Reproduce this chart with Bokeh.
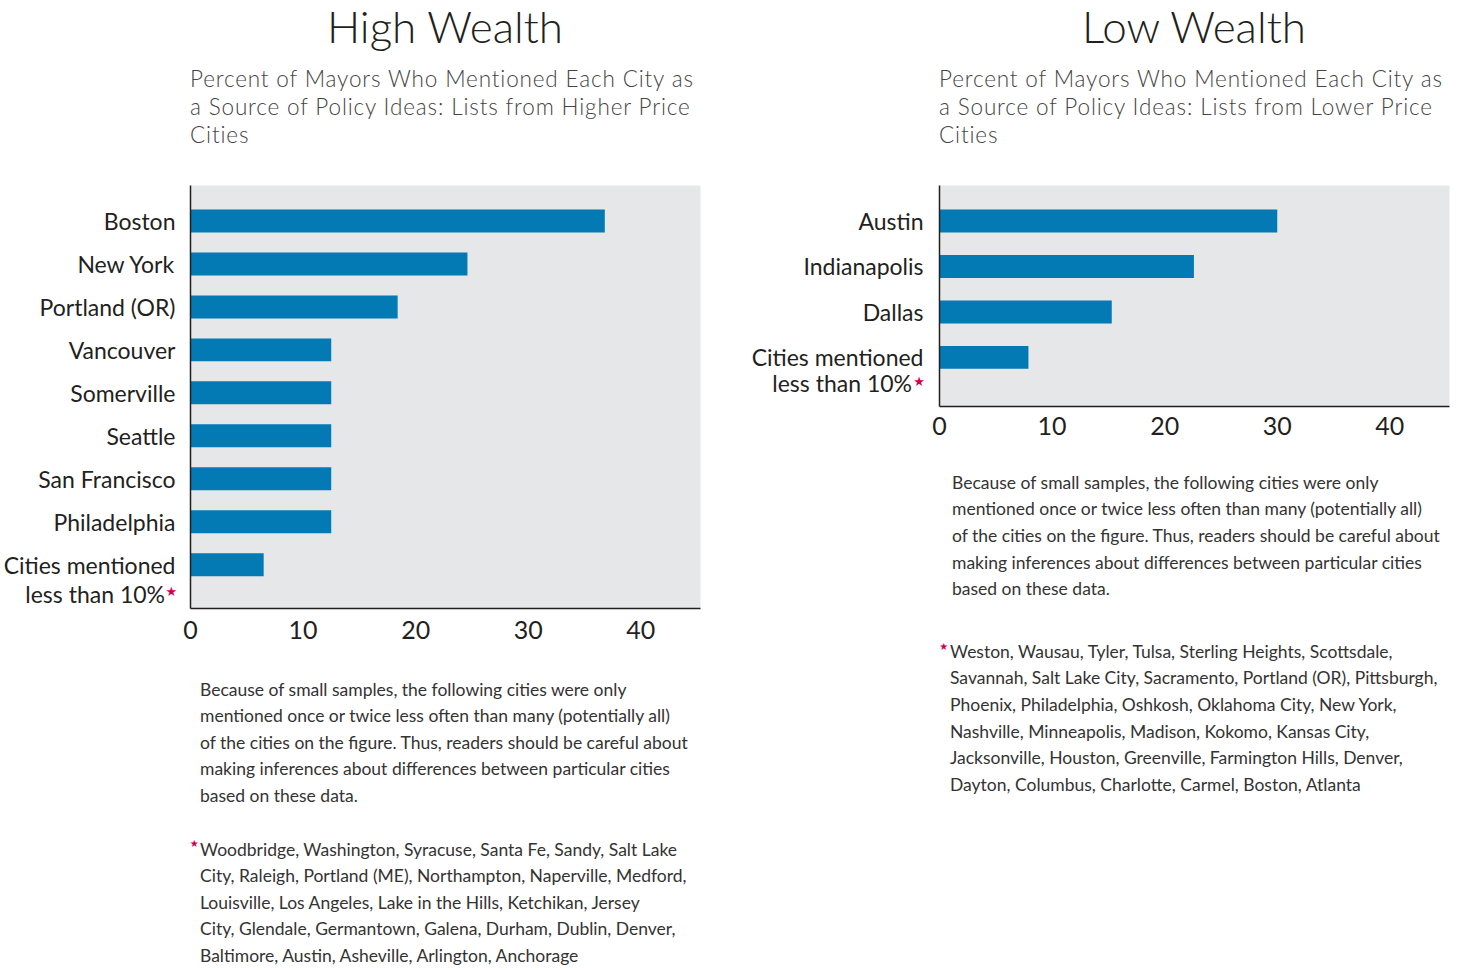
from bokeh.plotting import figure
from bokeh.models import Range1d, FixedTicker, Div
from bokeh.embed import file_html
from bokeh.resources import INLINE

# ---------------- data ----------------
high_cities = ["Boston", "New York", "Portland (OR)", "Vancouver", "Somerville",
               "Seattle", "San Francisco", "Philadelphia", "Cities mentioned"]
high_values = [36.8, 24.6, 18.4, 12.5, 12.5, 12.5, 12.5, 12.5, 6.5]

low_cities = ["Austin", "Indianapolis", "Dallas", "Cities mentioned"]
low_values = [30.0, 22.6, 15.3, 7.9]

x_ticks = [0, 10, 20, 30, 40]
other_label = "less than 10%"
star = "\u2605"

titles = ["High Wealth", "Low Wealth"]
subtitle_high = ["Percent of Mayors Who Mentioned Each City as",
                 "a Source of Policy Ideas: Lists from Higher Price",
                 "Cities"]
subtitle_low = ["Percent of Mayors Who Mentioned Each City as",
                "a Source of Policy Ideas: Lists from Lower Price",
                "Cities"]
caveat = ["Because of small samples, the following cities were only",
          "mentioned once or twice less often than many (potentially all)",
          "of the cities on the figure. Thus, readers should be careful about",
          "making inferences about differences between particular cities",
          "based on these data."]
others_high = ["Woodbridge, Washington, Syracuse, Santa Fe, Sandy, Salt Lake",
               "City, Raleigh, Portland (ME), Northampton, Naperville, Medford,",
               "Louisville, Los Angeles, Lake in the Hills, Ketchikan, Jersey",
               "City, Glendale, Germantown, Galena, Durham, Dublin, Denver,",
               "Baltimore, Austin, Asheville, Arlington, Anchorage"]
others_low = ["Weston, Wausau, Tyler, Tulsa, Sterling Heights, Scottsdale,",
              "Savannah, Salt Lake City, Sacramento, Portland (OR), Pittsburgh,",
              "Phoenix, Philadelphia, Oshkosh, Oklahoma City, New York,",
              "Nashville, Minneapolis, Madison, Kokomo, Kansas City,",
              "Jacksonville, Houston, Greenville, Farmington Hills, Denver,",
              "Dayton, Columbus, Charlotte, Carmel, Boston, Atlanta"]

# ---------------- style ----------------
BAR = "#037ab3"
FRAME_BG = "#e6e7e8"
DARK = "#231f20"
GREY = "#444444"
NOTE = "#333333"
RED = "#d1004f"
FONT = "Lato"
NOTE_SIZE = 17.5


def div(html, left, top, width, height, size, color=DARK, weight="400",
        align="left", lh=None, spacing="0px", family="Lato, sans-serif"):
    lh = lh if lh is not None else size * 1.25
    return Div(text=html, width=int(round(width)), height=int(round(height)), margin=0,
               styles={"position": "absolute", "left": f"{left:.1f}px", "top": f"{top:.1f}px",
                       "font-family": family, "font-size": f"{size}px",
                       "font-weight": weight, "color": color, "text-align": align,
                       "line-height": f"{lh}px", "white-space": "nowrap",
                       "letter-spacing": spacing, "overflow": "visible"})


def star_div(cx, cy, size):
    # star glyph centred on (cx, cy)
    return div(star, cx - 0.42 * size, cy - size / 2, size, size, size, color=RED,
               lh=size, family="'DejaVu Sans', sans-serif")


def top_for(baseline, size, lh):
    # top of a line box whose text baseline should sit at `baseline`
    return baseline - (lh / 2 + 0.387 * size)


def chart(cities, values, left, width, border_left, frame_h, pad_top, pad_bot,
          bar_h, standoff, x_standoff):
    n = len(cities)
    pos = list(range(n))
    height = 185 + frame_h + 44
    p = figure(width=width, height=height, output_backend="svg", toolbar_location=None,
               x_range=Range1d(0, 45.3), y_range=Range1d(n - 1 + pad_bot, -pad_top),
               min_border_left=border_left, min_border_right=width - border_left - 510,
               min_border_top=185, min_border_bottom=44)
    p.styles = {"position": "absolute", "left": f"{left}px", "top": "0px"}
    p.hbar(y=pos, left=0, right=values, height=bar_h, color=BAR, line_color=None)
    p.background_fill_color = FRAME_BG
    p.border_fill_color = None
    p.outline_line_color = None
    p.grid.visible = False

    xa = p.xaxis[0]
    xa.ticker = FixedTicker(ticks=x_ticks)
    xa.minor_tick_line_color = None
    xa.major_tick_line_color = None
    xa.major_tick_out = 0
    xa.major_tick_in = 0
    xa.major_label_standoff = x_standoff
    xa.major_label_text_font = FONT
    xa.major_label_text_font_size = "25px"
    xa.major_label_text_color = DARK
    xa.axis_line_color = DARK
    xa.axis_line_width = 1.5

    ya = p.yaxis[0]
    ya.ticker = FixedTicker(ticks=pos)
    ya.major_label_overrides = {i: c for i, c in enumerate(cities)}
    ya.minor_tick_line_color = None
    ya.major_tick_line_color = None
    ya.major_tick_out = 0
    ya.major_tick_in = 0
    ya.major_label_standoff = standoff
    ya.major_label_text_font = FONT
    ya.major_label_text_font_size = "23px"
    ya.major_label_text_color = DARK
    ya.axis_line_color = DARK
    ya.axis_line_width = 1.5
    return p


def texts(frame_left, title, subtitle, others, caveat_x, caveat_base, others_x,
          others_base, note_star, less_right, less_base, cat_star):
    items = []
    items.append(div(title, frame_left, top_for(43.3, 44, 52), 510, 52, 44,
                     color=DARK, weight="300", align="center", lh=52))
    items.append(div("<br>".join(subtitle), frame_left, top_for(87.7, 22.5, 28.3),
                     540, 3 * 28.3, 22.5, color=GREY, weight="300", lh=28.3,
                     spacing="0.85px"))
    items.append(div("<br>".join(caveat), caveat_x,
                     top_for(caveat_base, NOTE_SIZE, 26.6),
                     520, 5 * 26.6, NOTE_SIZE, color=NOTE, lh=26.6))
    items.append(div("<br>".join(others), others_x,
                     top_for(others_base, NOTE_SIZE, 26.6),
                     520, len(others) * 26.6 - 2, NOTE_SIZE, color=NOTE, lh=26.6))
    items.append(star_div(note_star[0], note_star[1], 10))
    items.append(div(other_label, less_right - 200, top_for(less_base, 23, 28), 200, 28, 23,
                     color=DARK, align="right", lh=28))
    items.append(star_div(cat_star[0], cat_star[1], 13))
    return items


p1 = chart(high_cities, high_values, left=0, width=730, border_left=190,
           frame_h=423, pad_top=0.826, pad_bot=1.02, bar_h=0.535, standoff=15,
           x_standoff=12)
p2 = chart(low_cities, low_values, left=738, width=725, border_left=201,
           frame_h=221, pad_top=0.78, pad_bot=1.08, bar_h=0.505, standoff=16,
           x_standoff=10)

t1 = texts(190, titles[0], subtitle_high, others_high, 200, 696.7, 200, 856.7,
           (194, 844), 165, 603.3, (171, 591.5))
t2 = texts(939, titles[1], subtitle_low, others_low, 952, 490, 950, 659,
           (943.5, 646.5), 912, 392, (918.7, 381))

open("out.html", "w").write(file_html([p1, p2] + t1 + t2, INLINE))
